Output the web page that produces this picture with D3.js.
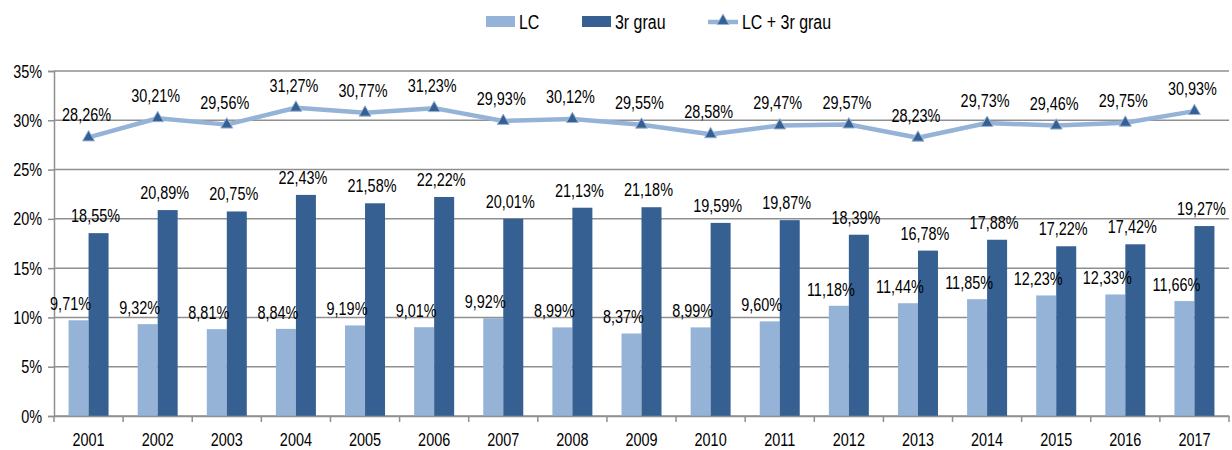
<!DOCTYPE html>
<html>
<head>
<meta charset="utf-8">
<script src="https://cdn.jsdelivr.net/npm/d3@7"></script>
<style>
  html, body { margin: 0; padding: 0; background: #fff; }
  svg { display: block; }
  text { font-family: "Liberation Sans Narrow", "Arial Narrow", "Liberation Sans", Arial, sans-serif; fill: #000; }
</style>
</head>
<body>
<svg id="chart" width="1232" height="450"></svg>
<script>
const years = ["2001","2002","2003","2004","2005","2006","2007","2008","2009","2010","2011","2012","2013","2014","2015","2016","2017"];
const lcValues = [9.71, 9.32, 8.81, 8.84, 9.19, 9.01, 9.92, 8.99, 8.37, 8.99, 9.60, 11.18, 11.44, 11.85, 12.23, 12.33, 11.66];
const grauValues = [18.55, 20.89, 20.75, 22.43, 21.58, 22.22, 20.01, 21.13, 21.18, 19.59, 19.87, 18.39, 16.78, 17.88, 17.22, 17.42, 19.27];
const totalValues = [28.26, 30.21, 29.56, 31.27, 30.77, 31.23, 29.93, 30.12, 29.55, 28.58, 29.47, 29.57, 28.23, 29.73, 29.46, 29.75, 30.93];
const seriesNames = ["LC", "3r grau", "LC + 3r grau"];
const yTicks = [0, 5, 10, 15, 20, 25, 30, 35];

(function () {
const colLight = "#95b3d7";
const colDark = "#376092";
const colGrid = "#8f8f8f";
const squeeze = 0.76;

const svg = d3.select("#chart");
const pLeft = 54, pRight = 1229, pTop = 71, pBottom = 416;

const x = d3.scaleBand().domain(years).range([pLeft, pRight]).padding(0);
const xs = d3.scaleBand().domain(seriesNames.slice(0, 2)).range([-20, 20]).padding(0);
const y = d3.scaleLinear().domain([0, 35]).range([pBottom, pTop]);

const fmt = v => d3.format(".2f")(v).replace(".", ",") + "%";

// gridlines
svg.append("g").selectAll("line").data(yTicks).join("line")
  .attr("x1", pLeft).attr("x2", pRight)
  .attr("y1", d => y(d)).attr("y2", d => y(d))
  .attr("stroke", colGrid).attr("stroke-width", 1.5);

// y axis
const yAxis = svg.append("g").attr("transform", `translate(${pLeft},0)`)
  .call(d3.axisLeft(y).tickValues(yTicks).tickSize(6).tickPadding(6).tickFormat(d => d + "%"));
yAxis.select(".domain").attr("stroke", colGrid).attr("stroke-width", 1.5);
yAxis.selectAll(".tick line").attr("stroke", colGrid).attr("stroke-width", 1.5);
yAxis.selectAll("text").style("font-size", "19px").attr("fill", "#000");

// bars
const lcData = years.map((yr, i) => ({ yr, v: lcValues[i] }));
const grData = years.map((yr, i) => ({ yr, v: grauValues[i] }));
const cx = yr => x(yr) + x.bandwidth() / 2;

svg.append("g").selectAll("rect").data(lcData).join("rect")
  .attr("x", d => cx(d.yr) + xs("LC"))
  .attr("width", xs.bandwidth())
  .attr("y", d => y(d.v)).attr("height", d => pBottom - y(d.v))
  .attr("fill", colLight);

svg.append("g").selectAll("rect").data(grData).join("rect")
  .attr("x", d => cx(d.yr) + xs("3r grau"))
  .attr("width", xs.bandwidth())
  .attr("y", d => y(d.v)).attr("height", d => pBottom - y(d.v))
  .attr("fill", colDark);

// x axis
const xAxis = svg.append("g").attr("transform", `translate(0,${pBottom})`)
  .call(d3.axisBottom(x).tickSize(0).tickPadding(17));
xAxis.select(".domain").attr("stroke", colGrid).attr("stroke-width", 1.5);
xAxis.selectAll("text").style("font-size", "19px").attr("fill", "#000");
const edges = years.map(d => x(d)).concat([pRight]);
svg.append("g").selectAll("line").data(edges).join("line")
  .attr("x1", d => d).attr("x2", d => d)
  .attr("y1", pBottom).attr("y2", pBottom + 6)
  .attr("stroke", colGrid).attr("stroke-width", 1.5);

// line
const totData = years.map((yr, i) => ({ yr, v: totalValues[i] }));
svg.append("path").datum(totData)
  .attr("fill", "none").attr("stroke", colLight).attr("stroke-width", 4.5)
  .attr("stroke-linejoin", "round")
  .attr("d", d3.line().x(d => cx(d.yr)).y(d => y(d.v)));

const tri = d3.symbol().type(d3.symbolTriangle).size(62);
svg.append("g").selectAll("path").data(totData).join("path")
  .attr("transform", d => `translate(${cx(d.yr)},${y(d.v)})`)
  .attr("d", tri)
  .attr("fill", colDark).attr("stroke", colLight).attr("stroke-width", 1);

// labels
const lab = svg.append("g").style("font-size", "19px").attr("text-anchor", "middle");
lab.selectAll(".lc").data(lcData).join("text")
  .attr("x", d => cx(d.yr) + xs("LC") + xs.bandwidth() / 2 - 8)
  .attr("y", d => y(d.v) - 10)
  .text(d => fmt(d.v));
lab.selectAll(".gr").data(grData).join("text")
  .attr("x", d => cx(d.yr) + xs("3r grau") + xs.bandwidth() / 2 - 3)
  .attr("y", d => y(d.v) - 11)
  .text(d => fmt(d.v));
lab.selectAll(".tot").data(totData).join("text")
  .attr("x", d => cx(d.yr) - 2)
  .attr("y", d => y(d.v) - 16)
  .text(d => fmt(d.v));

// legend
const lg = svg.append("g").style("font-size", "21px");
lg.append("rect").attr("x", 486).attr("y", 16).attr("width", 29).attr("height", 11).attr("fill", colLight);
lg.append("text").attr("x", 519).attr("y", 29.5).text(seriesNames[0]);
lg.append("rect").attr("x", 582).attr("y", 16).attr("width", 29).attr("height", 11).attr("fill", colDark);
lg.append("text").attr("x", 615).attr("y", 29.5).text(seriesNames[1]);
lg.append("line").attr("x1", 708).attr("x2", 738).attr("y1", 22).attr("y2", 22)
  .attr("stroke", colLight).attr("stroke-width", 4.5);
lg.append("path").attr("transform", "translate(723,21)").attr("d", tri)
  .attr("fill", colDark).attr("stroke", colLight).attr("stroke-width", 1);
lg.append("text").attr("x", 742).attr("y", 29.5).text(seriesNames[2]);

// condense glyphs horizontally to mimic a narrow typeface
svg.selectAll("text").each(function () {
  const t = d3.select(this);
  const x0 = +(t.attr("x") || 0);
  t.attr("x", x0 / squeeze).attr("transform", `scale(${squeeze},1)`);
});
})();
</script>
</body>
</html>
